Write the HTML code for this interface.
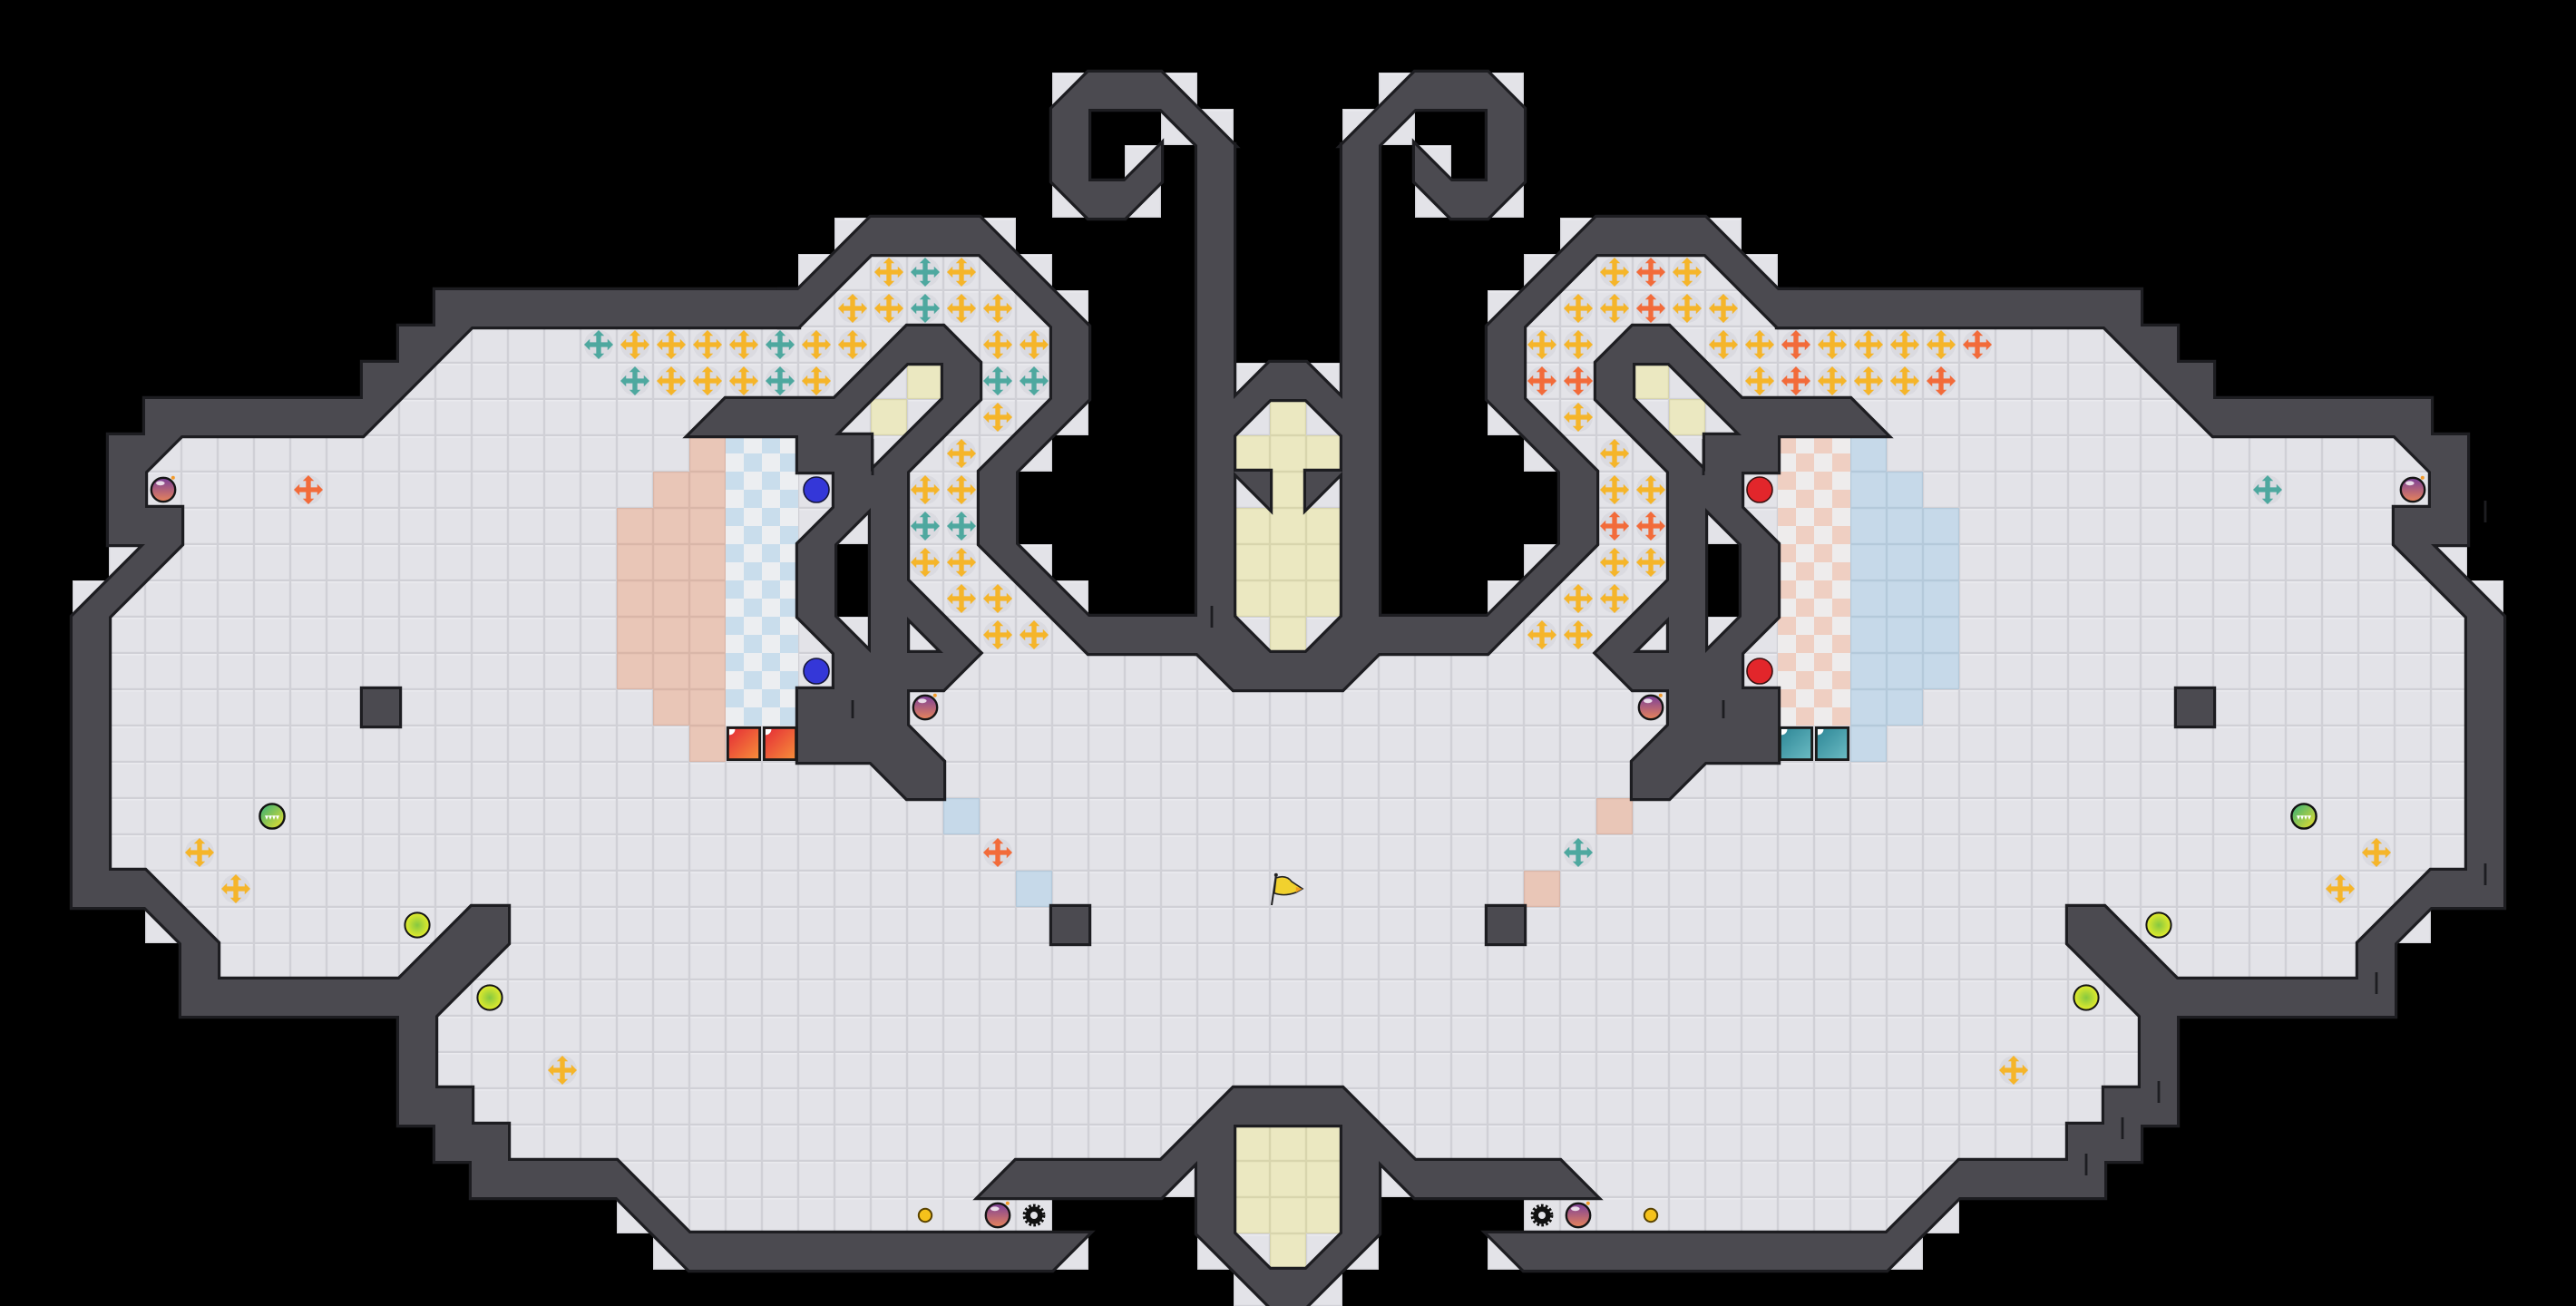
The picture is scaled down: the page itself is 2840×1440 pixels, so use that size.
<!DOCTYPE html>
<html><head><meta charset="utf-8"><style>
html,body{margin:0;padding:0;background:#000;}
svg{display:block;}
</style></head><body>
<svg xmlns="http://www.w3.org/2000/svg" xmlns:xlink="http://www.w3.org/1999/xlink" width="2840" height="1440" viewBox="0 0 71 36">
<defs>
<pattern id="tp" width="1" height="1" patternUnits="userSpaceOnUse"><rect width="1" height="1" fill="#d0d0d6"/><rect x=".03" y=".03" width=".94" height=".94" fill="#e3e3e8"/><rect x=".03" y=".03" width=".94" height=".03" fill="#eeeef2"/></pattern>
<pattern id="pk" width="1" height="1" patternUnits="userSpaceOnUse"><rect width="1" height="1" fill="#d9b6a8"/><rect x=".03" y=".03" width=".94" height=".94" fill="#e9c6b7"/></pattern>
<pattern id="lb" width="1" height="1" patternUnits="userSpaceOnUse"><rect width="1" height="1" fill="#b4c9da"/><rect x=".03" y=".03" width=".94" height=".94" fill="#c6d9e9"/></pattern>
<pattern id="yl" width="1" height="1" patternUnits="userSpaceOnUse"><rect width="1" height="1" fill="#d8d5ad"/><rect x=".03" y=".03" width=".94" height=".94" fill="#ebe8c1"/></pattern>
<pattern id="ckb" width="1" height="1" patternUnits="userSpaceOnUse"><rect width="1" height="1" fill="#eceef1"/><rect width=".5" height=".5" fill="#c9ddec"/><rect x=".5" y=".5" width=".5" height=".5" fill="#c9ddec"/></pattern>
<pattern id="ckp" width="1" height="1" patternUnits="userSpaceOnUse"><rect width="1" height="1" fill="#eeecec"/><rect width=".5" height=".5" fill="#efcfc2"/><rect x=".5" y=".5" width=".5" height=".5" fill="#efcfc2"/></pattern>
<linearGradient id="gbomb" x1="0" y1="0" x2="0" y2="1"><stop offset="0" stop-color="#7a3f9a"/><stop offset="1" stop-color="#e8845a"/></linearGradient>
<linearGradient id="gteeth" x1="0" y1="0" x2="1" y2="1"><stop offset="0" stop-color="#2fae7a"/><stop offset="1" stop-color="#f0e02a"/></linearGradient>
<radialGradient id="glime"><stop offset="0" stop-color="#86c840"/><stop offset="1" stop-color="#e4ec2c"/></radialGradient>
<linearGradient id="gred" x1="0" y1="0" x2="1" y2="1"><stop offset="0" stop-color="#e42a36"/><stop offset="1" stop-color="#f7903a"/></linearGradient>
<linearGradient id="gteal" x1="0" y1="0" x2="1" y2="1"><stop offset="0" stop-color="#2c8595"/><stop offset="1" stop-color="#6cbcc4"/></linearGradient>

<symbol id="pl" viewBox="-45 -45 90 90"><circle r="36" fill="#d4d4da" opacity=".6"/><path fill="currentColor" d="M-6,-22 h12 v16 h16 v-8 l14,14 -14,14 v-8 h-16 v16 h8 l-14,14 -14,-14 h8 v-16 h-16 v8 l-14,-14 14,-14 v8 h16 v-16 h-8 l14,-14 14,14 z"/></symbol>
<symbol id="bomb" viewBox="-50 -50 100 100"><circle r="33" fill="url(#gbomb)" stroke="#151515" stroke-width="6"/><ellipse cx="-8" cy="-18" rx="12" ry="6" fill="#fff" opacity=".8"/><circle cx="27" cy="-33" r="5" fill="#f39a2a"/></symbol>
<symbol id="teeth" viewBox="-50 -50 100 100"><circle r="34" fill="url(#gteeth)" stroke="#111" stroke-width="6"/><path d="M-20,-2 h40 l-5,12 -5,-12 -5,12 -5,-12 -5,12 -5,-12 -5,12 z" fill="#fff"/></symbol>
<symbol id="lime" viewBox="-50 -50 100 100"><circle r="34" fill="url(#glime)" stroke="#151515" stroke-width="5"/></symbol>
<symbol id="bb" viewBox="-50 -50 100 100"><circle r="35" fill="#3437d8" stroke="#15163a" stroke-width="4"/></symbol>
<symbol id="rb" viewBox="-50 -50 100 100"><circle r="35" fill="#e2262b" stroke="#3a1010" stroke-width="4"/></symbol>
<symbol id="gear" viewBox="-50 -50 100 100"><circle r="24" fill="#111" stroke="#111" stroke-width="14" stroke-dasharray="6 5"/><circle r="10" fill="#e3e3e8"/></symbol>
<symbol id="dot" viewBox="-50 -50 100 100"><circle r="18" fill="#f5c21b" stroke="#5a4300" stroke-width="5"/></symbol>
<symbol id="blkr" viewBox="-50 -50 100 100"><rect x="-44" y="-44" width="88" height="88" fill="url(#gred)" stroke="#1a1a1a" stroke-width="7"/><path d="M-40,-40 h16 a16 16 0 0 1 -16 16 z" fill="#fff"/></symbol>
<symbol id="blkt" viewBox="-50 -50 100 100"><rect x="-44" y="-44" width="88" height="88" fill="url(#gteal)" stroke="#1a1a1a" stroke-width="7"/><path d="M-40,-40 h16 a16 16 0 0 1 -16 16 z" fill="#fff"/></symbol>

<g id="fl">
<polygon points="35.5,19 34,19 33,18 33,17.5 30,17.5 28,15 28,13 30,11 30,9 27,6 24,6 22,8 12,8 12,9 11,9 11,10 10,10 10,11 4,11 4,12 3,12 3,15 4,15 2,17 2,25 4,25 5,26 5,28 11,28 11,31 12,31 12,32 13,32 13,33 17,33 19,35 29,35 30,35 30,34 29,34 29,33 32,33 33,32 34,31 35.5,31"/>
<rect x="22" y="7" width="1" height="1"/><rect x="23" y="6" width="1" height="1"/><rect x="27" y="6" width="1" height="1"/><rect x="28" y="7" width="1" height="1"/><rect x="29" y="8" width="1" height="1"/><rect x="29" y="11" width="1" height="1"/><rect x="28" y="12" width="1" height="1"/><rect x="28" y="15" width="1" height="1"/><rect x="29" y="16" width="1" height="1"/><rect x="3" y="15" width="1" height="1"/><rect x="2" y="16" width="1" height="1"/><rect x="4" y="25" width="1" height="1"/><rect x="17" y="33" width="1" height="1"/><rect x="18" y="34" width="1" height="1"/><rect x="29" y="34" width="1" height="1"/><rect x="32" y="32" width="1" height="1"/><rect x="33" y="34" width="1" height="1"/><rect x="34" y="35" width="1" height="1"/><rect x="29" y="2" width="1" height="1"/><rect x="32" y="2" width="1" height="1"/><rect x="33" y="3" width="1" height="1"/><rect x="32" y="3" width="1" height="1"/><rect x="31" y="4" width="1" height="1"/><rect x="29" y="5" width="1" height="1"/><rect x="31" y="5" width="1" height="1"/>
<rect x="34" y="10" width="1" height="1"/><rect x="34" y="11" width="1.5" height="7"/><rect x="34" y="31" width="1.5" height="4"/>
</g>

<g id="wl">
<polygon points="22,8 12,8 12,9 11,9 11,10 10,10 10,11 4,11 4,12 3,12 3,15 4,15 2,17 2,25 4,25 5,26 5,28 11,28 11,31 12,31 12,32 13,32 13,33 17,33 19,35 29,35 30,34 19,34 17,32 14,32 14,31 13,31 13,30 12,30 12,28 14,26 14,25 13,25 11,27 6,27 6,26 4,24 3,24 3,17 5,15 5,14 4,14 4,13 5,12 10,12 13,9 22,9"/>
<polygon points="21.5,8 22,8 24,6 27,6 30,9 30,11 28,13 28,15 30,17 34,17 34,18 30,18 27,15 27,13 29,11 29,9 27,7 24,7 22,9 21.5,9"/>
<polygon points="29,3 30,2 32,2 34,4 33,4 32,3 30,3 30,5 31,5 32,4 32,5 31,6 30,6 29,5"/>
<rect x="33" y="4" width="1" height="14"/>
<path fill-rule="evenodd" d="M19 12 L20 11 L23 11 L25 9 L26 9 L27 10 L27 11 L25 13 L25 16 L27 18 L26 19 L25 19 L25 20 L26 21 L26 22 L25 22 L24 21 L22 21 L22 19 L23 19 L23 18 L22 17 L22 15 L23 14 L23 13 L22 13 L22 12 Z M25 10 L26 10 L26 11 L24 13 L24 12 L23 12 Z M23 15 L24 14 L24 18 L23 17 Z M25 17 L26 18 L25 18 Z"/>
<rect x="10" y="19" width="1" height="1"/>
<rect x="29" y="25" width="1" height="1"/>
</g>

<g id="wc">
<polygon points="34,11 35,10 36,10 37,11 37,12 36,11 35,11 34,12"/>
<polygon points="33,17 34,17 35,18 36,18 37,17 38,17 38,18 37,19 34,19 33,18"/>
<polygon points="34,13 35,13 35,14"/>
<polygon points="37,13 36,13 36,14"/>
<path fill-rule="evenodd" d="M27 33 L28 32 L32 32 L34 30 L37 30 L39 32 L43 32 L44 33 L39 33 L38 32 L38 34 L36 36 L35 36 L33 34 L33 32 L32 33 Z M34 31 L37 31 L37 34 L36 35 L35 35 L34 34 Z"/>
</g>
</defs>

<rect width="71" height="36" fill="#000"/>

<use href="#fl" fill="url(#tp)"/>
<use href="#fl" fill="url(#tp)" transform="translate(71 0) scale(-1 1)"/>

<rect x="23" y="15" width="1" height="2" fill="#000"/>
<rect x="47" y="15" width="1" height="2" fill="#000"/>

<rect x="19" y="12" width="1" height="9" fill="url(#pk)"/>
<rect x="18" y="13" width="1" height="7" fill="url(#pk)"/>
<rect x="17" y="14" width="1" height="5" fill="url(#pk)"/>
<rect x="20" y="12" width="2" height="8" fill="url(#ckb)"/>
<rect x="26" y="22" width="1" height="1" fill="url(#lb)"/>
<rect x="28" y="24" width="1" height="1" fill="url(#lb)"/>
<rect x="25" y="10" width="1" height="1" fill="url(#yl)"/>
<rect x="24" y="11" width="1" height="1" fill="url(#yl)"/>
<rect x="51" y="12" width="1" height="9" fill="url(#lb)"/>
<rect x="52" y="13" width="1" height="7" fill="url(#lb)"/>
<rect x="53" y="14" width="1" height="5" fill="url(#lb)"/>
<rect x="49" y="12" width="2" height="8" fill="url(#ckp)"/>
<rect x="44" y="22" width="1" height="1" fill="url(#pk)"/>
<rect x="42" y="24" width="1" height="1" fill="url(#pk)"/>
<rect x="45" y="10" width="1" height="1" fill="url(#yl)"/>
<rect x="46" y="11" width="1" height="1" fill="url(#yl)"/>
<g fill="url(#yl)">
<rect x="35" y="11" width="1" height="1"/><rect x="34" y="12" width="3" height="1"/><rect x="35" y="13" width="1" height="1"/><rect x="34" y="14" width="3" height="3"/><rect x="35" y="17" width="1" height="1"/>
<rect x="34" y="31" width="3" height="3"/><rect x="35" y="34" width="1" height="1"/>
</g>

<g fill="#1d1d21" stroke="#1d1d21" stroke-width=".16" stroke-linejoin="miter">
<use href="#wl"/>
<use href="#wl" transform="translate(71 0) scale(-1 1)"/>
<use href="#wc"/>
</g>
<g fill="#4b4a50">
<use href="#wl"/>
<use href="#wl" transform="translate(71 0) scale(-1 1)"/>
<use href="#wc"/>
</g>
<g stroke="#1d1d21" stroke-width=".07">
<line x1="23.5" y1="19.3" x2="23.5" y2="19.8"/><line x1="47.5" y1="19.3" x2="47.5" y2="19.8"/>
<line x1="33.4" y1="16.7" x2="33.4" y2="17.3"/><line x1="24.05" y1="12.1" x2="24.05" y2="13.1"/><line x1="46.95" y1="12.1" x2="46.95" y2="13.1"/>
<line x1="68.5" y1="13.8" x2="68.5" y2="14.4"/><line x1="68.5" y1="23.8" x2="68.5" y2="24.4"/>
<line x1="65.5" y1="26.8" x2="65.5" y2="27.4"/><line x1="59.5" y1="29.8" x2="59.5" y2="30.4"/>
<line x1="58.5" y1="30.8" x2="58.5" y2="31.4"/><line x1="57.5" y1="31.8" x2="57.5" y2="32.4"/>
</g>

<g color="#f5b52a">
<use href="#pl" x="24" y="7" width="1" height="1"/><use href="#pl" x="26" y="7" width="1" height="1"/>
<use href="#pl" x="23" y="8" width="1" height="1"/><use href="#pl" x="24" y="8" width="1" height="1"/><use href="#pl" x="26" y="8" width="1" height="1"/><use href="#pl" x="27" y="8" width="1" height="1"/>
<use href="#pl" x="17" y="9" width="1" height="1"/><use href="#pl" x="18" y="9" width="1" height="1"/><use href="#pl" x="19" y="9" width="1" height="1"/><use href="#pl" x="20" y="9" width="1" height="1"/><use href="#pl" x="22" y="9" width="1" height="1"/><use href="#pl" x="23" y="9" width="1" height="1"/><use href="#pl" x="27" y="9" width="1" height="1"/><use href="#pl" x="28" y="9" width="1" height="1"/>
<use href="#pl" x="18" y="10" width="1" height="1"/><use href="#pl" x="19" y="10" width="1" height="1"/><use href="#pl" x="20" y="10" width="1" height="1"/><use href="#pl" x="22" y="10" width="1" height="1"/>
<use href="#pl" x="27" y="11" width="1" height="1"/><use href="#pl" x="26" y="12" width="1" height="1"/>
<use href="#pl" x="25" y="13" width="1" height="1"/><use href="#pl" x="26" y="13" width="1" height="1"/>
<use href="#pl" x="25" y="15" width="1" height="1"/><use href="#pl" x="26" y="15" width="1" height="1"/>
<use href="#pl" x="26" y="16" width="1" height="1"/><use href="#pl" x="27" y="16" width="1" height="1"/>
<use href="#pl" x="27" y="17" width="1" height="1"/><use href="#pl" x="28" y="17" width="1" height="1"/>
<use href="#pl" x="5" y="23" width="1" height="1"/><use href="#pl" x="6" y="24" width="1" height="1"/><use href="#pl" x="15" y="29" width="1" height="1"/>
<use href="#pl" x="46" y="7" width="1" height="1"/><use href="#pl" x="44" y="7" width="1" height="1"/>
<use href="#pl" x="47" y="8" width="1" height="1"/><use href="#pl" x="46" y="8" width="1" height="1"/><use href="#pl" x="44" y="8" width="1" height="1"/><use href="#pl" x="43" y="8" width="1" height="1"/>
<use href="#pl" x="53" y="9" width="1" height="1"/><use href="#pl" x="52" y="9" width="1" height="1"/><use href="#pl" x="51" y="9" width="1" height="1"/><use href="#pl" x="50" y="9" width="1" height="1"/><use href="#pl" x="48" y="9" width="1" height="1"/><use href="#pl" x="47" y="9" width="1" height="1"/><use href="#pl" x="43" y="9" width="1" height="1"/><use href="#pl" x="42" y="9" width="1" height="1"/>
<use href="#pl" x="52" y="10" width="1" height="1"/><use href="#pl" x="51" y="10" width="1" height="1"/><use href="#pl" x="50" y="10" width="1" height="1"/><use href="#pl" x="48" y="10" width="1" height="1"/>
<use href="#pl" x="43" y="11" width="1" height="1"/><use href="#pl" x="44" y="12" width="1" height="1"/>
<use href="#pl" x="45" y="13" width="1" height="1"/><use href="#pl" x="44" y="13" width="1" height="1"/>
<use href="#pl" x="45" y="15" width="1" height="1"/><use href="#pl" x="44" y="15" width="1" height="1"/>
<use href="#pl" x="44" y="16" width="1" height="1"/><use href="#pl" x="43" y="16" width="1" height="1"/>
<use href="#pl" x="43" y="17" width="1" height="1"/><use href="#pl" x="42" y="17" width="1" height="1"/>
<use href="#pl" x="65" y="23" width="1" height="1"/><use href="#pl" x="64" y="24" width="1" height="1"/><use href="#pl" x="55" y="29" width="1" height="1"/>
</g>
<g color="#4ea89f">
<use href="#pl" x="25" y="7" width="1" height="1"/><use href="#pl" x="25" y="8" width="1" height="1"/>
<use href="#pl" x="16" y="9" width="1" height="1"/><use href="#pl" x="21" y="9" width="1" height="1"/>
<use href="#pl" x="17" y="10" width="1" height="1"/><use href="#pl" x="21" y="10" width="1" height="1"/><use href="#pl" x="27" y="10" width="1" height="1"/><use href="#pl" x="28" y="10" width="1" height="1"/>
<use href="#pl" x="25" y="14" width="1" height="1"/><use href="#pl" x="26" y="14" width="1" height="1"/>
<use href="#pl" x="62" y="13" width="1" height="1"/><use href="#pl" x="43" y="23" width="1" height="1"/>
</g>
<g color="#f26b3a">
<use href="#pl" x="45" y="7" width="1" height="1"/><use href="#pl" x="45" y="8" width="1" height="1"/>
<use href="#pl" x="54" y="9" width="1" height="1"/><use href="#pl" x="49" y="9" width="1" height="1"/>
<use href="#pl" x="53" y="10" width="1" height="1"/><use href="#pl" x="49" y="10" width="1" height="1"/><use href="#pl" x="43" y="10" width="1" height="1"/><use href="#pl" x="42" y="10" width="1" height="1"/>
<use href="#pl" x="45" y="14" width="1" height="1"/><use href="#pl" x="44" y="14" width="1" height="1"/>
<use href="#pl" x="8" y="13" width="1" height="1"/><use href="#pl" x="27" y="23" width="1" height="1"/>
</g>

<use href="#bomb" x="4" y="13" width="1" height="1"/><use href="#bomb" x="25" y="19" width="1" height="1"/><use href="#bomb" x="27" y="33" width="1" height="1"/>
<use href="#bomb" x="66" y="13" width="1" height="1"/><use href="#bomb" x="45" y="19" width="1" height="1"/><use href="#bomb" x="43" y="33" width="1" height="1"/>
<use href="#bb" x="22" y="13" width="1" height="1"/><use href="#bb" x="22" y="18" width="1" height="1"/>
<use href="#rb" x="48" y="13" width="1" height="1"/><use href="#rb" x="48" y="18" width="1" height="1"/>
<use href="#teeth" x="7" y="22" width="1" height="1"/><use href="#teeth" x="63" y="22" width="1" height="1"/>
<use href="#lime" x="11" y="25" width="1" height="1"/><use href="#lime" x="13" y="27" width="1" height="1"/>
<use href="#lime" x="59" y="25" width="1" height="1"/><use href="#lime" x="57" y="27" width="1" height="1"/>
<use href="#blkr" x="20" y="20" width="1" height="1"/><use href="#blkr" x="21" y="20" width="1" height="1"/>
<use href="#blkt" x="49" y="20" width="1" height="1"/><use href="#blkt" x="50" y="20" width="1" height="1"/>
<use href="#dot" x="25" y="33" width="1" height="1"/><use href="#dot" x="45" y="33" width="1" height="1"/>
<use href="#gear" x="28" y="33" width="1" height="1"/><use href="#gear" x="42" y="33" width="1" height="1"/>

<line x1="35.05" y1="24.95" x2="35.17" y2="24.12" stroke="#222" stroke-width=".05"/>
<circle cx="35.17" cy="24.12" r=".05" fill="#222"/>
<path d="M35.17,24.2 Q35.45,24.1 35.6,24.3 L35.9,24.5 L35.72,24.6 Q35.4,24.72 35.12,24.62 Z" fill="#f1d12e" stroke="#222" stroke-width=".04"/>
<path d="M35.72,24.45 L35.9,24.5 L35.72,24.6 Z" fill="#f0a020"/>
</svg>
</body></html>
